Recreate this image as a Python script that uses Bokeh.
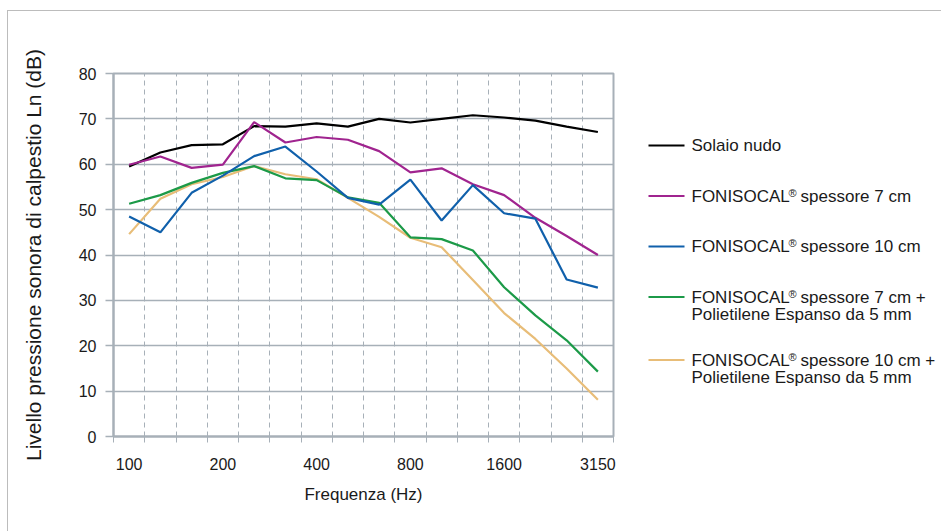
from bokeh.plotting import figure
from bokeh.models import Range1d, FixedTicker, ColumnDataSource
from bokeh.layouts import row
from bokeh.core.properties import value
from bokeh.embed import file_html
from bokeh.resources import INLINE

# ---- data ----
freq = ["100", "125", "160", "200", "250", "315", "400", "500", "630", "800",
        "1000", "1250", "1600", "2000", "2500", "3150"]
label_idx = [0, 3, 6, 9, 12, 15]

solaio_nudo = [59.5, 62.6, 64.2, 64.4, 68.4, 68.3, 69.0, 68.3, 70.0, 69.2, 70.0, 70.8, 70.3, 69.6, 68.3, 67.1]
foni_7 = [59.9, 61.7, 59.2, 59.9, 69.3, 64.8, 66.0, 65.4, 62.9, 58.2, 59.1, 55.6, 53.2, 48.2, 44.2, 40.0]
foni_10 = [48.5, 45.0, 53.7, 57.5, 61.8, 63.9, 58.4, 52.6, 51.1, 56.6, 47.6, 55.4, 49.2, 48.0, 34.6, 32.8]
foni_7_pe = [51.3, 53.2, 55.9, 58.1, 59.6, 56.9, 56.5, 52.7, 51.5, 43.9, 43.5, 41.0, 32.9, 26.7, 21.2, 14.3]
foni_10_pe = [44.6, 52.4, 55.6, 57.2, 59.6, 57.8, 56.7, 52.6, 48.4, 43.8, 41.7, 34.5, 27.2, 21.5, 15.0, 8.1]

y_ticks = [0, 10, 20, 30, 40, 50, 60, 70, 80]

series_names = [
    "Solaio nudo",
    "FONISOCAL® spessore 7 cm",
    "FONISOCAL® spessore 10 cm",
    "FONISOCAL® spessore 7 cm +\nPolietilene Espanso da 5 mm",
    "FONISOCAL® spessore 10 cm +\nPolietilene Espanso da 5 mm",
]
series_values = [solaio_nudo, foni_7, foni_10, foni_7_pe, foni_10_pe]
series_colors = ["#000000", "#a0248f", "#1060ab", "#1c9a48", "#e8bd78"]
draw_order = [0, 1, 4, 3, 2]

FONT = "Liberation Sans"
GREY = "#a7b0b8"
TEXT = "#1a1a1a"

FRAME_W, FRAME_H = 500, 363
B_LEFT, B_RIGHT, B_TOP, B_BOTTOM = 105, 10, 62, 95

# ---- main chart ----
p = figure(width=B_LEFT + FRAME_W + B_RIGHT, height=B_TOP + FRAME_H + B_BOTTOM,
           frame_width=FRAME_W, frame_height=FRAME_H,
           x_range=Range1d(-0.5, len(freq) - 0.5), y_range=Range1d(0, 80),
           output_backend="svg", toolbar_location=None,
           min_border_left=B_LEFT, min_border_right=B_RIGHT,
           min_border_top=B_TOP, min_border_bottom=B_BOTTOM)
p.background_fill_color = "white"
p.border_fill_color = "white"
p.outline_line_color = GREY
p.outline_line_width = 2

x_idx = list(range(len(freq)))
for k in draw_order:
    src = ColumnDataSource(dict(x=x_idx, y=series_values[k]))
    p.line("x", "y", source=src, line_color=series_colors[k], line_width=2.2)

xa = p.xaxis[0]
xa.ticker = FixedTicker(ticks=label_idx, minor_ticks=[i - 0.5 for i in range(len(freq) + 1)])
xa.major_label_overrides = {i: freq[i] for i in label_idx}
xa.axis_line_color = GREY
xa.axis_line_width = 2
xa.major_tick_line_color = None
xa.minor_tick_line_color = GREY
xa.minor_tick_in = 0
xa.minor_tick_out = 6
xa.major_label_text_font = FONT
xa.major_label_text_font_size = "16px"
xa.major_label_text_color = TEXT
xa.major_label_standoff = 15
xa.axis_label = "Frequenza (Hz)"
xa.axis_label_text_font = FONT
xa.axis_label_text_font_size = "17px"
xa.axis_label_text_font_style = "normal"
xa.axis_label_text_color = TEXT
xa.axis_label_standoff = 12

ya = p.yaxis[0]
ya.ticker = FixedTicker(ticks=y_ticks)
ya.axis_line_color = GREY
ya.axis_line_width = 2
ya.major_tick_line_color = GREY
ya.major_tick_line_width = 1.5
ya.major_tick_in = 0
ya.major_tick_out = 8
ya.minor_tick_line_color = None
ya.major_label_text_font = FONT
ya.major_label_text_font_size = "16px"
ya.major_label_text_color = TEXT
ya.major_label_standoff = 9
ya.axis_label = "Livello pressione sonora di calpestio Ln (dB)"
ya.axis_label_text_font = FONT
ya.axis_label_text_font_size = "21px"
ya.axis_label_text_font_style = "normal"
ya.axis_label_text_color = TEXT
ya.axis_label_standoff = 31

p.xgrid.grid_line_color = None
p.xgrid.minor_grid_line_color = GREY
p.xgrid.minor_grid_line_dash = "5 4"
p.xgrid.minor_grid_line_width = 1
p.ygrid.grid_line_color = GREY
p.ygrid.grid_line_width = 1.5

# ---- legend panel (frame aligned with the chart frame) ----
LW = 318
leg = figure(width=LW, height=B_TOP + FRAME_H + B_BOTTOM,
             frame_width=LW, frame_height=FRAME_H,
             x_range=Range1d(0, LW), y_range=Range1d(FRAME_H, 0),
             output_backend="svg", toolbar_location=None,
             min_border_left=0, min_border_right=0,
             min_border_top=B_TOP, min_border_bottom=B_BOTTOM,
             x_axis_location=None, y_axis_location=None)
leg.grid.visible = False
leg.outline_line_color = None
leg.background_fill_color = "white"
leg.border_fill_color = "white"

fs = 17
sample_x0, sample_x1, text_x = 25, 61, 68
y0, step, line_h = 72, 50.5, 17
extra = 0
for i, (name, col) in enumerate(zip(series_names, series_colors)):
    yc = y0 + step * i + 12.5 * extra
    leg.line([sample_x0, sample_x1], [yc, yc], line_color=col, line_width=2.2)
    lines = name.split("\n")
    for j, ln in enumerate(lines):
        yy = yc + j * line_h
        if "®" in ln:
            a, b = ln.split("®")
            wa = 5.65 * fs
            leg.text([text_x], [yy], text=[a], text_font=value(FONT), text_font_size=f"{fs}px",
                     text_baseline="middle", text_align="left", text_color=TEXT)
            leg.text([text_x + wa + 1], [yy - 3.5], text=["®"], text_font=value(FONT),
                     text_font_size="11px", text_baseline="middle", text_align="left", text_color=TEXT)
            leg.text([text_x + wa + 13], [yy], text=[b.strip()], text_font=value(FONT),
                     text_font_size=f"{fs}px", text_baseline="middle", text_align="left", text_color=TEXT)
        else:
            leg.text([text_x], [yy], text=[ln], text_font=value(FONT), text_font_size=f"{fs}px",
                     text_baseline="middle", text_align="left", text_color=TEXT)
    extra += len(lines) - 1

layout = row(p, leg)
layout.margin = (10, 0, 0, 7)
layout.styles = {"border-top": "1px solid #bcbcbc", "border-left": "1px solid #bcbcbc"}

open("out.html", "w").write(file_html(layout, INLINE))
